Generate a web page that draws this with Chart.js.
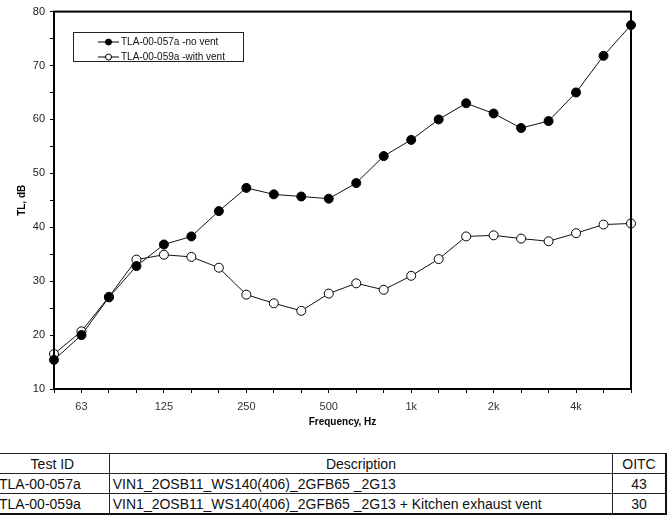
<!DOCTYPE html>
<html>
<head>
<meta charset="utf-8">
<script src="https://cdn.jsdelivr.net/npm/chart.js@4.4.0/dist/chart.umd.min.js"></script>
<style>
  body { margin: 0; background: #fff; width: 672px; height: 515px; overflow: hidden; position: relative; font-family: "Liberation Sans", Arial, sans-serif; }
  #wrap { position: absolute; left: 0; top: 0; width: 672px; height: 432px; }
  table { position: absolute; top: 453px; left: -5px; border-collapse: collapse; font-size: 14px; color: #111; }
  td { border: 1px solid #222; height: 19px; padding: 0 3px; line-height: 18px; }
  tr:last-child td { border-bottom: 2px solid #111; }
  td:last-child { border-right: 2px solid #111; }
  .c1 { width: 107px; }
  .c2 { width: 497px; }
  .c3 { width: 46px; text-align: center; }
  .ctr { text-align: center; }
</style>
</head>
<body>
<div id="wrap"><canvas id="tlChart" width="672" height="432"></canvas></div>
<table>
  <tr><td class="c1 ctr">Test ID</td><td class="c2 ctr">Description</td><td class="c3">OITC</td></tr>
  <tr><td class="c1">TLA-00-057a</td><td class="c2">VIN1_2OSB11_WS140(406)_2GFB65 _2G13</td><td class="c3">43</td></tr>
  <tr><td class="c1">TLA-00-059a</td><td class="c2">VIN1_2OSB11_WS140(406)_2GFB65 _2G13 + Kitchen exhaust vent</td><td class="c3">30</td></tr>
</table>
<script>
// third-octave bands
const frequencies = ['50', '63', '80', '100', '125', '160', '200', '250', '315', '400', '500', '630', '800', '1k', '1.25k', '1.6k', '2k', '2.5k', '3.15k', '4k', '5k', '6.3k'];
const shownLabels = ['63', '125', '250', '500', '1k', '2k', '4k'];
const noVent = [15.4, 20.0, 27.0, 32.8, 36.8, 38.3, 43.0, 47.3, 46.1, 45.7, 45.3, 48.2, 53.2, 56.2, 60.0, 63.0, 61.1, 58.4, 59.7, 65.0, 71.8, 77.5];
const withVent = [16.5, 20.7, 27.1, 34.0, 34.9, 34.5, 32.5, 27.5, 25.9, 24.5, 27.7, 29.6, 28.4, 31.0, 34.1, 38.3, 38.5, 37.9, 37.4, 38.9, 40.5, 40.7];

// frame around the plot + legend box inside it
const framePlugin = {
    id: 'frame',
    afterDatasetsDraw(chart) {
        const ctx = chart.ctx;
        const a = chart.chartArea;
        ctx.save();
        ctx.strokeStyle = '#000';
        ctx.lineWidth = 2;
        ctx.strokeRect(a.left, a.top, a.right - a.left, a.bottom - a.top);

        // legend
        const bx = 73, by = 32, bw = 170, bh = 29;
        ctx.fillStyle = '#fff';
        ctx.fillRect(bx, by, bw, bh);
        chart.data.datasets.forEach((ds, i) => {
            const y = by + 10 + i * 15;
            ctx.strokeStyle = '#000';
            ctx.lineWidth = 1;
            ctx.beginPath();
            ctx.moveTo(98, y);
            ctx.lineTo(119, y);
            ctx.stroke();
            ctx.beginPath();
            ctx.arc(108.5, y, 3, 0, Math.PI * 2);
            ctx.fillStyle = ds.pointBackgroundColor;
            ctx.fill();
            ctx.stroke();
            ctx.fillStyle = '#111';
            ctx.font = '10px "Liberation Sans", Arial, sans-serif';
            ctx.textBaseline = 'middle';
            ctx.fillText(ds.label, 121, y + 0.5);
        });
        ctx.strokeStyle = '#222';
        ctx.lineWidth = 1;
        ctx.strokeRect(bx + 0.5, by + 0.5, bw, bh);
        ctx.restore();
    }
};

const tlChart = new Chart(document.getElementById('tlChart'), {
    type: 'line',
    data: {
        labels: frequencies,
        datasets: [{
            label: 'TLA-00-057a -no vent',
            data: noVent,
            borderColor: '#111',
            borderWidth: 1,
            pointRadius: 4.5,
            pointBackgroundColor: '#000',
            pointBorderColor: '#000',
            pointBorderWidth: 1,
            clip: false
        }, {
            label: 'TLA-00-059a -with vent',
            data: withVent,
            borderColor: '#111',
            borderWidth: 1,
            pointRadius: 4.5,
            pointBackgroundColor: '#fff',
            pointBorderColor: '#000',
            pointBorderWidth: 1,
            clip: false
        }]
    },
    options: {
        responsive: false,
        animation: false,
        layout: { padding: { top: 9, right: 41, left: 12, bottom: 0 } },
        plugins: {
            legend: { display: false },
            tooltip: { enabled: false }
        },
        scales: {
            x: {
                offset: false,
                grid: { drawOnChartArea: false, color: '#000', tickLength: 4 },
                border: { color: '#000', width: 2 },
                ticks: {
                    autoSkip: false,
                    maxRotation: 0,
                    padding: 7,
                    color: '#333',
                    font: { family: '"Liberation Sans", Arial, sans-serif', size: 11 },
                    callback: function(value) {
                        const lab = frequencies[value];
                        return shownLabels.includes(lab) ? lab : '';
                    }
                },
                title: {
                    display: true,
                    text: 'Frequency, Hz',
                    color: '#000',
                    font: { family: '"Liberation Sans", Arial, sans-serif', size: 10, weight: 'bold' },
                    padding: { top: 4 }
                },
                afterFit: function(scale) { scale.height = 43; }
            },
            y: {
                min: 10,
                max: 80,
                grid: { drawOnChartArea: false, color: '#000', tickLength: 4 },
                border: { color: '#000', width: 2 },
                ticks: {
                    stepSize: 5,
                    padding: 5,
                    color: '#222',
                    font: { family: '"Liberation Sans", Arial, sans-serif', size: 11 },
                    callback: function(value) { return value % 10 === 0 ? value : ''; }
                },
                title: {
                    display: true,
                    text: 'TL, dB',
                    color: '#000',
                    font: { family: '"Liberation Sans", Arial, sans-serif', size: 10, weight: 'bold' }
                },
                afterFit: function(scale) { scale.width = 42; }
            }
        }
    },
    plugins: [framePlugin]
});
</script>
</body>
</html>
